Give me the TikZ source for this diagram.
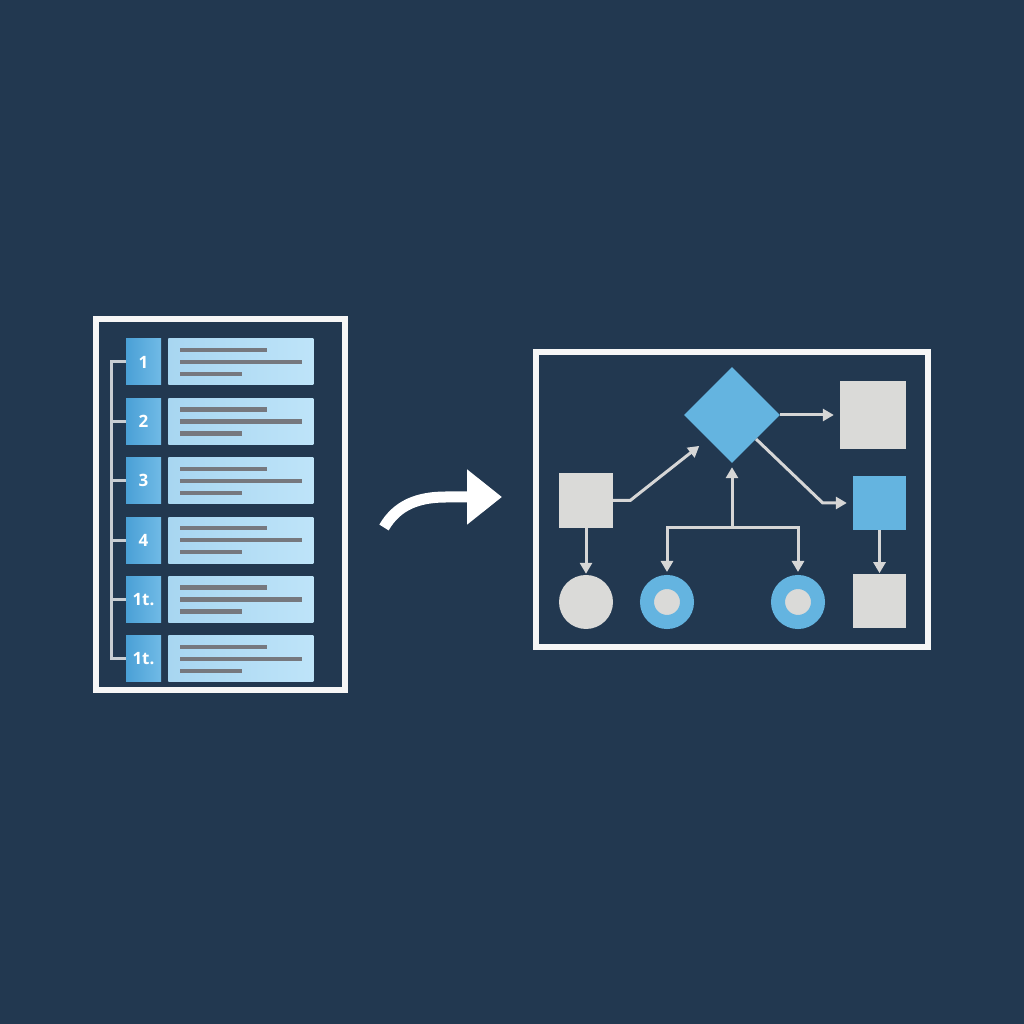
\documentclass[tikz,border=0pt]{standalone}
\usepackage{fontspec}
\setsansfont{Open Sans}
\usepackage{tikz}
\usetikzlibrary{
  arrows.meta,
  positioning,
  shapes.geometric,
}
\definecolor{bgnavy}{RGB}{34, 56, 80}
\definecolor{framewhite}{RGB}{246, 246, 246}
\definecolor{numblue1}{RGB}{74, 160, 214}
\definecolor{numblue2}{RGB}{112, 186, 230}
\definecolor{txtblue1}{RGB}{168, 214, 241}
\definecolor{txtblue2}{RGB}{190, 228, 249}
\definecolor{linegray}{RGB}{118, 120, 126}
\definecolor{bracketgray}{RGB}{200, 205, 210}
\definecolor{shapeblue}{RGB}{100, 180, 224}
\definecolor{shapegray}{RGB}{218, 218, 216}
\definecolor{arrowgray}{RGB}{214, 214, 214}
\tikzstyle{frame} = [
  rectangle,
  draw=framewhite,
  line width=5.5pt,
]
\tikzstyle{textline} = [
  linegray,
  line width=4.5pt,
]
\tikzstyle{numbox} = [
  rectangle,
  inner sep=0pt,
  left color=numblue1,
  right color=numblue2,
  minimum width=35pt,
  minimum height=46pt,
  text=white,
  font=\sffamily\bfseries\fontsize{17}{17}\selectfont,
]
\tikzstyle{txtbox} = [
  rectangle,
  inner sep=0pt,
  left color=txtblue1,
  right color=txtblue2,
  minimum width=145pt,
  minimum height=46pt,
  path picture={
    \draw[textline] ([xshift=12pt,yshift=12pt]path picture bounding box.west) -- ++(87pt,0pt);
    \draw[textline] ([xshift=12pt]path picture bounding box.west) -- ++(122pt,0pt);
    \draw[textline] ([xshift=12pt,yshift=-12pt]path picture bounding box.west) -- ++(62pt,0pt);
  },
]
\tikzstyle{bracket} = [
  bracketgray,
  line width=3pt,
]
\tikzstyle{graybox} = [
  rectangle,
  inner sep=0pt,
  fill=shapegray,
]
\tikzstyle{bluebox} = [
  rectangle,
  inner sep=0pt,
  fill=shapeblue,
]
\tikzstyle{decision} = [
  diamond,
  inner sep=0pt,
  fill=shapeblue,
  minimum width=96pt,
  minimum height=96pt,
]
\tikzstyle{graycircle} = [
  circle,
  inner sep=0pt,
  fill=shapegray,
  minimum size=54pt,
]
\tikzstyle{ringcircle} = [
  circle,
  inner sep=0pt,
  fill=shapegray,
  draw=shapeblue,
  line width=14pt,
  minimum size=40pt,
  outer sep=7pt,
]
\tikzstyle{flowarrow} = [
  -{Triangle[length=11pt,width=12pt]},
  line width=3pt,
  arrowgray,
]
\tikzstyle{bendarrow} = [
  -{Triangle[length=35pt,width=53pt]},
  line width=11pt,
  white,
]

\begin{document}
\begin{tikzpicture}[x=1pt, y=1pt, node distance=13pt and 7pt]
      \useasboundingbox (0,0) rectangle (1024,1024);
      \fill[bgnavy] (0,0) rectangle (1024,1024);

      % list panel
      \node[frame,minimum width=249pt,minimum height=371pt] (listframe) at (220.5,519.5) {};

      \node[numbox] (num1) at (143.5,662) {1};
      \node[txtbox] (txt1) [right=of num1] {};
      \node[numbox] (num2) [below=of num1] {2};
      \node[txtbox] (txt2) [right=of num2] {};
      \node[numbox] (num3) [below=of num2] {3};
      \node[txtbox] (txt3) [right=of num3] {};
      \node[numbox] (num4) [below=of num3] {4};
      \node[txtbox] (txt4) [right=of num4] {};
      \node[numbox] (num5) [below=of num4] {1t.};
      \node[txtbox] (txt5) [right=of num5] {};
      \node[numbox] (num6) [below=of num5] {1t.};
      \node[txtbox] (txt6) [right=of num6] {};

      \draw[bracket] (num1.west) -- ++(-14,0) |- (num6.west);
      \draw[bracket] (num2.west) -- ++(-14,0);
      \draw[bracket] (num3.west) -- ++(-14,0);
      \draw[bracket] (num4.west) -- ++(-14,0);
      \draw[bracket] (num5.west) -- ++(-14,0);

      % bend arrow
      \coordinate (bendstart) at (384,496.5);
      \coordinate (bendend) at (502,527);
      \draw[bendarrow] (bendstart) .. controls (397,519) and (418,527) .. (446,527) -- (bendend);

      % flowchart panel
      \node[frame,minimum width=392pt,minimum height=295pt] (flowframe) at (732,524.5) {};

      \node[decision] (decide) at (732,609) {};
      \node[graybox,minimum width=66pt,minimum height=68pt] (outtop) at (873,609) {};
      \node[graybox,minimum width=54pt,minimum height=55pt] (start) at (586,523.5) {};
      \node[bluebox,minimum width=53pt,minimum height=54pt] (process) at (879.5,521) {};
      \node[graybox,minimum width=53pt,minimum height=54pt,below=44pt of process] (outbottom) {};
      \node[graycircle] (endleft) at (586,422) {};
      \node[ringcircle] (ringleft) at (667,422) {};
      \node[ringcircle] (ringright) at (798,422) {};
      \coordinate (fork) at (732,496);

      \draw[flowarrow,shorten >=6pt] (decide.east) -- (outtop.west);
      \draw[flowarrow,shorten >=11pt] (start.east) -- ++(17,0) -- (decide.south west);
      \draw[flowarrow,shorten >=6pt] (decide.south east) -- ([xshift=-30pt]process.west) -- (process.west);
      \draw[flowarrow,shorten >=1pt] (start.south) -- (endleft.north);
      \draw[flowarrow,shorten >=1pt] (process.south) -- (outbottom.north);
      \draw[flowarrow,shorten >=4pt] (fork) -- (decide.south);
      \draw[flowarrow,shorten >=3pt] (fork) -| (ringleft.north);
      \draw[flowarrow,shorten >=3pt] (fork) -| (ringright.north);
    \end{tikzpicture}
\end{document}
